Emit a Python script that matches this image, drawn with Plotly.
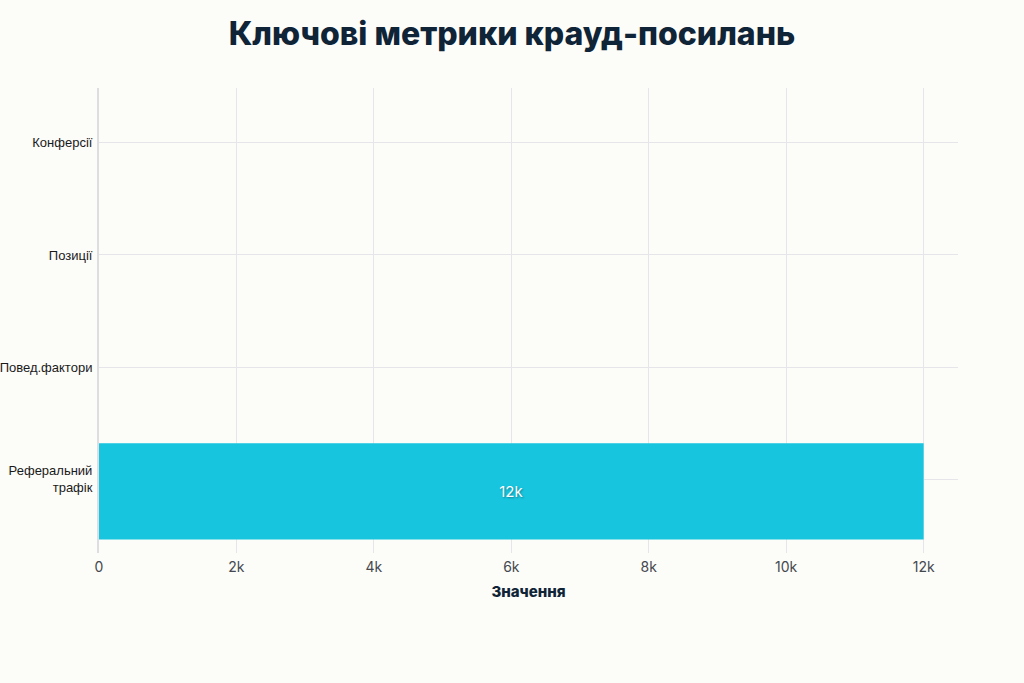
import plotly.graph_objects as go

# bottom-to-top order, as plotly draws categories on a horizontal bar chart
categories = ["Реферальний<br>трафік", "Повед.фактори", "Позиції", "Конферсії"]
values = [12000, 0, 0, 0]
labels = ["12k", "", "", ""]

x_ticks = [0, 2000, 4000, 6000, 8000, 10000, 12000]
x_tick_text = ["0", "2k", "4k", "6k", "8k", "10k", "12k"]

fig = go.Figure(
    go.Bar(
        x=values,
        y=categories,
        orientation="h",
        width=0.86,
        offset=-0.54,
        marker=dict(color="#17c5df", line=dict(width=0)),
        text=labels,
        textposition="inside",
        insidetextanchor="middle",
        textfont=dict(color="white", size=15, family="Inter",
                      shadow="1px 1px 2px rgba(0,0,0,0.35)"),
        cliponaxis=False,
    )
)

fig.update_layout(
    width=1024,
    height=683,
    paper_bgcolor="#fcfcf9",
    plot_bgcolor="#fcfcf9",
    margin=dict(l=99, r=66, t=88, b=130),
    showlegend=False,
    title=dict(
        text="Ключові метрики крауд-посилань",
        x=0.5,
        xanchor="center",
        y=0.951,
        yanchor="middle",
        font=dict(family="Inter", size=32, weight=800, color="#0f2436"),
    ),
)

fig.update_xaxes(
    range=[0, 12500],
    tickvals=x_ticks,
    ticktext=x_tick_text,
    tickfont=dict(family="Inter", size=14, color="#44494f"),
    showgrid=True,
    gridcolor="#e6e6ea",
    gridwidth=1,
    zeroline=False,
    ticks="",
    ticklabelstandoff=4,
    automargin=False,
    title=dict(
        text="Значення",
        font=dict(family="Inter", size=15, weight=800, color="#0f2436"),
        standoff=12,
    ),
)

fig.update_yaxes(
    range=[-0.66, 3.49],
    tickfont=dict(family="Liberation Sans", size=13, color="#1a1a1a"),
    showgrid=True,
    gridcolor="#e6e6ea",
    gridwidth=1,
    showline=True,
    linecolor="#dedee2",
    linewidth=2,
    ticks="",
    ticklabelstandoff=2,
    automargin=False,
)

fig.write_html(
    "out.html",
    config={"displayModeBar": False},
    post_script="document.body.style.margin='0';document.body.style.background='#fcfcf9';",
)
